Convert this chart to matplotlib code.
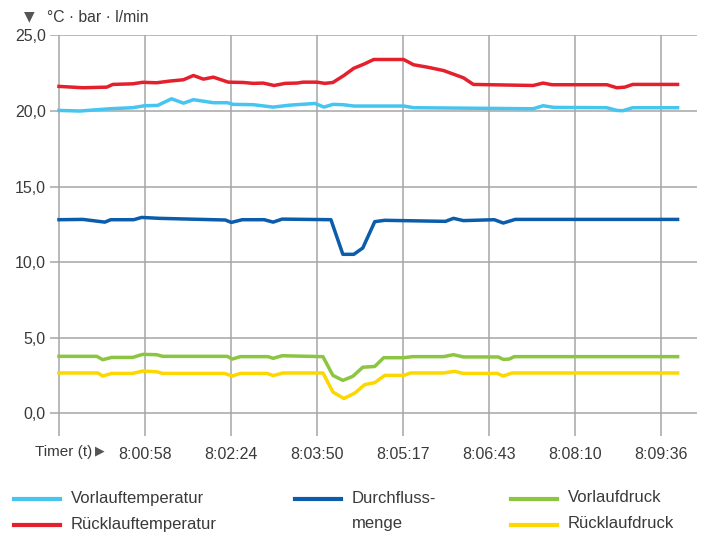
import matplotlib
matplotlib.use("Agg")
import matplotlib.pyplot as plt
from matplotlib.lines import Line2D

plt.rcParams['font.family'] = ['Liberation Sans', 'DejaVu Sans']

# time in seconds after 7:59:32 (left grid line)
tick_step = 86.33
tick_labels = ['', '8:00:58', '8:02:24', '8:03:50', '8:05:17', '8:06:43', '8:08:10', '8:09:36']
y_ticks = [0, 5, 10, 15, 20, 25]
y_labels = ['0,0', '5,0', '10,0', '15,0', '20,0', '25,0']

vorlauftemp_t = [0, 21, 51, 74, 86, 99, 113, 125, 135, 155, 169, 175, 195, 215, 232, 257, 266,
                 275, 285, 296, 346, 356, 476, 486, 497, 550, 560, 566, 576, 621]
vorlauftemp_v = [20.04, 20.0, 20.15, 20.22, 20.35, 20.37, 20.81, 20.52, 20.75, 20.55, 20.55, 20.44,
                 20.42, 20.26, 20.39, 20.5, 20.26, 20.44, 20.42, 20.33, 20.33, 20.22, 20.15, 20.35,
                 20.24, 20.22, 20.04, 20.02, 20.22, 20.22]

ruecklauftemp_t = [0, 24, 48, 54, 74, 84, 98, 111, 125, 135, 145, 155, 170, 185, 195, 205, 216, 227,
                   239, 245, 259, 267, 275, 286, 296, 306, 316, 346, 356, 370, 386, 406, 416, 476,
                   486, 495, 550, 560, 568, 576, 621]
ruecklauftemp_v = [21.63, 21.54, 21.58, 21.76, 21.8, 21.9, 21.87, 21.98, 22.07, 22.35, 22.11, 22.24,
                   21.91, 21.89, 21.83, 21.85, 21.69, 21.83, 21.85, 21.91, 21.91, 21.83, 21.89, 22.35,
                   22.83, 23.1, 23.41, 23.41, 23.06, 22.9, 22.68, 22.2, 21.76, 21.69, 21.85, 21.74,
                   21.74, 21.54, 21.58, 21.76, 21.76]

durchfluss_t = [0, 24, 46, 52, 75, 83, 101, 167, 173, 184, 206, 215, 224, 273, 285, 296, 305, 317,
                327, 388, 396, 406, 437, 446, 458, 621]
durchfluss_v = [12.81, 12.83, 12.65, 12.81, 12.81, 12.96, 12.9, 12.79, 12.63, 12.81, 12.81, 12.65,
                12.85, 12.81, 10.52, 10.52, 10.94, 12.68, 12.77, 12.7, 12.9, 12.75, 12.81, 12.59,
                12.83, 12.83]

vorlaufdruck_t = [0, 38, 44, 53, 74, 84, 98, 104, 169, 174, 182, 210, 215, 224, 265, 275, 285, 295,
                  305, 317, 326, 346, 355, 386, 396, 406, 441, 446, 452, 457, 621]
vorlaufdruck_v = [3.77, 3.77, 3.55, 3.7, 3.7, 3.9, 3.88, 3.77, 3.77, 3.59, 3.75, 3.75, 3.64, 3.81,
                  3.75, 2.51, 2.18, 2.45, 3.05, 3.1, 3.68, 3.68, 3.75, 3.75, 3.88, 3.73, 3.73, 3.57,
                  3.59, 3.75, 3.75]

ruecklaufdruck_t = [0, 39, 44, 53, 74, 84, 98, 104, 166, 174, 182, 209, 215, 225, 265, 275, 286, 297,
                    307, 317, 327, 346, 353, 386, 397, 406, 440, 446, 455, 621]
ruecklaufdruck_v = [2.67, 2.67, 2.47, 2.64, 2.64, 2.8, 2.75, 2.64, 2.64, 2.47, 2.64, 2.64, 2.5, 2.67,
                    2.67, 1.41, 0.98, 1.34, 1.9, 2.03, 2.51, 2.51, 2.67, 2.67, 2.78, 2.64, 2.64, 2.47,
                    2.67, 2.67]

series = [
    ('Vorlauftemperatur', vorlauftemp_t, vorlauftemp_v, '#45c5f0'),
    ('Rücklauftemperatur', ruecklauftemp_t, ruecklauftemp_v, '#e5202d'),
    ('Durchfluss-\nmenge', durchfluss_t, durchfluss_v, '#0b5dab'),
    ('Vorlaufdruck', vorlaufdruck_t, vorlaufdruck_v, '#8cc540'),
    ('Rücklaufdruck', ruecklaufdruck_t, ruecklaufdruck_v, '#fcd800'),
]

text_color = '#3a3a3a'
grid_color = '#a6a6a6'

W, H = 706, 539
fig = plt.figure(figsize=(W / 100, H / 100), dpi=100)
ax = fig.add_axes([50 / W, 1 - 436 / H, 647 / W, 401 / H])

for name, t, v, c in series:
    ax.plot(t, v, color=c, lw=2.5, solid_joinstyle='round', zorder=3)

ax.set_xlim(-9, 640.5)
ax.set_ylim(-1.5, 25.03)
ax.set_xticks([i * tick_step for i in range(len(tick_labels))], tick_labels)
ax.set_yticks(y_ticks, y_labels)
ax.tick_params(length=0, labelsize=11.5, labelcolor=text_color)
ax.tick_params(axis='x', pad=8)
ax.tick_params(axis='y', pad=3)
ax.grid(True, color=grid_color, lw=1.1)
ax.set_axisbelow(True)
for s in ax.spines.values():
    s.set_visible(False)

# header
fig.text(24 / W, 1 - 16 / H, '▼', fontsize=10, color='#555555', va='center',
         family=['DejaVu Sans'])
fig.text(47 / W, 1 - 17 / H, '°C · bar · l/min', fontsize=11.3, color=text_color, va='center')

# x axis caption
fig.text(35 / W, 1 - 452 / H, 'Timer (t)', fontsize=11, color=text_color, va='center')
fig.text(95 / W, 1 - 451 / H, '▶', fontsize=9, color='#555555', va='center',
         family=['DejaVu Sans'])

# legend
legend_pos = [(14, 499), (14, 525), (295, 499), (511, 499), (511, 525)]
for (name, t, v, c), (lx, ly) in zip(series, legend_pos):
    fig.add_artist(Line2D([lx / W, (lx + 46) / W], [1 - ly / H, 1 - ly / H],
                          color=c, lw=3, transform=fig.transFigure))
    if '\n' in name:
        fig.text((lx + 57) / W, 1 - (ly + 12) / H, name, fontsize=12, color=text_color,
                 va='center', linespacing=1.85)
    else:
        fig.text((lx + 57) / W, 1 - (ly - 1) / H, name, fontsize=12, color=text_color,
                 va='center')

fig.savefig('out.png', dpi=100)
